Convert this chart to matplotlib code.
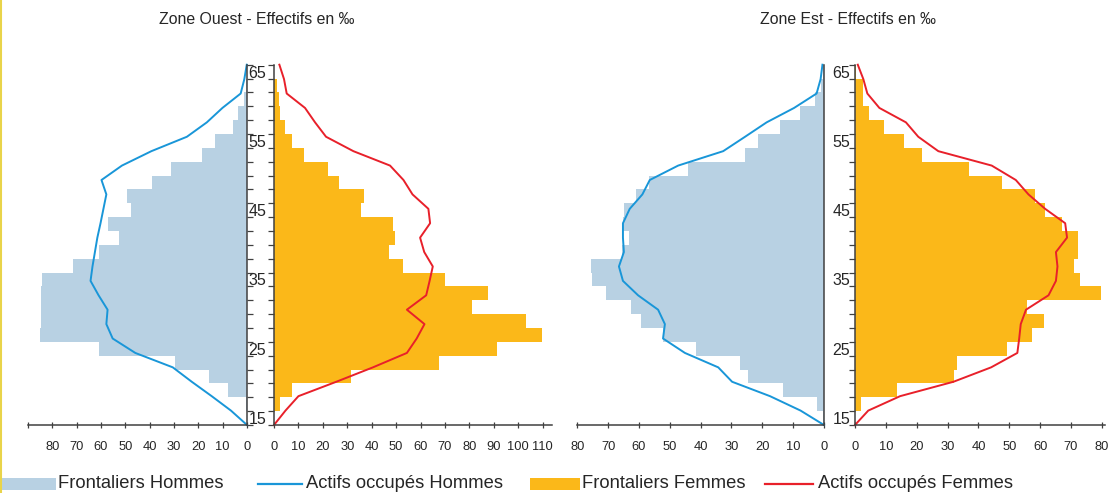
import numpy as np
import matplotlib.pyplot as plt
from matplotlib.lines import Line2D
from matplotlib.patches import Rectangle

plt.rcParams['font.family'] = ['Liberation Sans', 'DejaVu Sans']

# ---- data (per mille), age groups 15, 17, ..., 65 ----
ages = [15, 17, 19, 21, 23, 25, 27, 29, 31, 33, 35, 37, 39,
        41, 43, 45, 47, 49, 51, 53, 55, 57, 59, 61, 63, 65]
age_labels = ["15", "25", "35", "45", "55", "65"]

# Zone Ouest
ouest_front_h = [0, 0.5, 7.8, 15.8, 29.5, 61, 85.2, 84.8, 84.8, 84.5, 84.4, 71.7, 60.7,
                 52.5, 57.0, 47.5, 49.2, 38.9, 31.1, 18.4, 13.1, 5.9, 3.7, 1.2, 0.4, 0.2]
ouest_front_f = [0, 2.5, 7.2, 31.4, 67.6, 91.3, 109.7, 103.1, 81, 87.6, 70, 52.7, 47.1,
                 49.6, 48.6, 35.7, 36.9, 26.6, 22, 12.2, 7.2, 4.5, 2.5, 2.0, 1.4, 0.2]
ouest_actifs_h = [0, 6.6, 14.5, 22.7, 30.5, 45.9, 55.2, 57.8, 57.3, 61, 64.3, 63.5, 62.5,
                  61.5, 60.2, 59, 57.8, 59.8, 51.4, 39.3, 24.7, 16.5, 10.1, 2.6, 1.1, 0.1]
ouest_actifs_f = [0, 4.7, 10, 25.5, 40.5, 54.4, 58.4, 61.6, 54.4, 62.3, 63.7, 65, 61.5,
                  59.8, 63.9, 63.2, 56.7, 53, 47.5, 32.5, 21.3, 16.8, 12.7, 5.2, 4.1, 2.2]

# Zone Est
est_front_h = [0.3, 2.4, 13.2, 24.6, 27.3, 41.6, 52.3, 59.2, 62.7, 70.8, 75.1, 75.4, 65.5,
               63.2, 65.1, 64.8, 61, 56.7, 44, 25.6, 21.3, 14.3, 7.8, 2.9, 1.0, 0.3]
est_front_f = [0, 1.8, 13.5, 32.1, 33, 49.2, 57.3, 61.3, 55.6, 79.7, 72.9, 70.8, 72.3,
               72.3, 67, 61.6, 58.3, 47.6, 37, 21.7, 15.9, 9.4, 4.5, 2.7, 2.7, 0.3]
est_actifs_h = [0, 7.6, 17.5, 29.8, 34.3, 45.1, 52.2, 51.6, 53.8, 60.3, 65.2, 66.5, 64.9,
                65.2, 65.2, 63, 58.9, 56.5, 47.3, 32.7, 25.6, 18.6, 9.7, 2.4, 1.1, 0.5]
est_actifs_f = [0, 4.3, 14.6, 31.9, 44.1, 52.6, 53.2, 53.7, 55.4, 62.7, 65.1, 65.6, 65.1,
                68.7, 68.1, 61.6, 56.2, 52.1, 44.3, 27, 20.5, 16.5, 7.9, 4, 2.7, 0.9]

# ---- style ----
c_h_bar = "#B8D1E3"
c_f_bar = "#FBB819"
c_h_line = "#1996D8"
c_f_line = "#E8202A"
c_axis = "#404040"
c_text = "#262626"

W, H = 1111, 493
fig = plt.figure(figsize=(W / 100, H / 100), dpi=100)

idx = np.arange(len(ages))
# line points span the whole category axis (Excel "on tick marks")
line_pos = np.linspace(-0.5, len(ages) - 0.5, len(ages))
bounds = np.arange(-0.5, len(ages), 1.0)
lab_pos = [ages.index(int(a)) for a in age_labels]

y_bot, y_top = 425, 64.7


def px_axes(x0, x1):
    return fig.add_axes([x0 / W, 1 - y_bot / H, (x1 - x0) / W, (y_bot - y_top) / H])


def style_common(ax):
    ax.set_ylim(-0.5, len(ages) - 0.5)
    ax.spines["top"].set_visible(False)
    ax.spines["bottom"].set_color(c_axis)
    ax.spines["bottom"].set_linewidth(1.1)
    ax.tick_params(axis="x", direction="inout", length=5, width=0.9, color=c_axis,
                   labelsize=9.3, labelcolor=c_text, pad=9)
    ax.patch.set_alpha(0)


def men_axes(x0, x1, xmin, ticks, inner_ticks, front, actifs):
    ax = px_axes(x0, x1)
    ax.barh(idx, [-v for v in front], height=1.0, color=c_h_bar, linewidth=0)
    ax.plot([-v for v in actifs], line_pos, color=c_h_line, lw=1.4, clip_on=False)
    style_common(ax)
    ax.set_xlim(xmin, 0)
    ax.spines["left"].set_visible(False)
    ax.spines["right"].set_color(c_axis)
    ax.spines["right"].set_linewidth(1.1)
    ax.set_xticks([-t for t in ticks])
    ax.set_xticklabels([str(t) for t in ticks])
    ax.yaxis.tick_right()
    ax.set_yticks([])
    if inner_ticks:
        ax.set_yticks(bounds, minor=True)
        ax.tick_params(axis="y", which="minor", direction="out", length=4,
                       width=0.9, color=c_axis)
    return ax


def women_axes(x0, x1, xmax, ticks, pad, front, actifs):
    ax = px_axes(x0, x1)
    ax.barh(idx, front, height=1.0, color=c_f_bar, linewidth=0)
    ax.plot(actifs, line_pos, color=c_f_line, lw=1.4, clip_on=False)
    style_common(ax)
    ax.set_xlim(0, xmax)
    ax.spines["right"].set_visible(False)
    ax.spines["left"].set_color(c_axis)
    ax.spines["left"].set_linewidth(1.1)
    ax.set_xticks(ticks)
    ax.set_xticklabels([str(t) for t in ticks])
    ax.set_yticks(lab_pos)
    ax.set_yticklabels(age_labels)
    ax.tick_params(axis="y", which="major", length=0, labelsize=11.5,
                   labelcolor=c_text, pad=pad)
    ax.set_yticks(bounds, minor=True)
    ax.tick_params(axis="y", which="minor", direction="out", length=4,
                   width=0.9, color=c_axis)
    return ax


# Zone Ouest
men_axes(28, 247, -89.8, [90, 80, 70, 60, 50, 40, 30, 20, 10, 0], True,
         ouest_front_h, ouest_actifs_h)
women_axes(274, 552, 113.8, [0, 10, 20, 30, 40, 50, 60, 70, 80, 90, 100, 110], 5.5,
           ouest_front_f, ouest_actifs_f)

# Zone Est
men_axes(577, 824, -80.1, [80, 70, 60, 50, 40, 30, 20, 10, 0], False,
         est_front_h, est_actifs_h)
women_axes(855, 1105, 81.0, [0, 10, 20, 30, 40, 50, 60, 70, 80], 3.5,
           est_front_f, est_actifs_f)

# hide the unlabeled -90 tick label on the left
fig.axes[0].get_xticklabels()[0].set_visible(False)

# titles
fig.text(257 / W, 1 - 20 / H, "Zone Ouest - Effectifs en \u2030", ha="center", va="center",
         fontsize=11.4, color=c_text)
fig.text(848 / W, 1 - 20 / H, "Zone Est - Effectifs en \u2030", ha="center", va="center",
         fontsize=11.4, color=c_text)

# legend
ly = 1 - 484 / H
fs_leg = 13.2
fig.add_artist(Rectangle((0 / W, 1 - 490 / H), 56 / W, 12 / H, color=c_h_bar, lw=0,
                         transform=fig.transFigure))
fig.text(58 / W, ly, "Frontaliers Hommes", va="center", fontsize=fs_leg, color=c_text)
fig.add_artist(Line2D([258 / W, 302 / W], [ly, ly], color=c_h_line, lw=1.6,
                      transform=fig.transFigure))
fig.text(306 / W, ly, "Actifs occupés Hommes", va="center", fontsize=fs_leg, color=c_text)
fig.add_artist(Rectangle((530 / W, 1 - 490 / H), 50 / W, 12 / H, color=c_f_bar, lw=0,
                         transform=fig.transFigure))
fig.text(582 / W, ly, "Frontaliers Femmes", va="center", fontsize=fs_leg, color=c_text)
fig.add_artist(Line2D([765 / W, 813 / W], [ly, ly], color=c_f_line, lw=1.6,
                      transform=fig.transFigure))
fig.text(818 / W, ly, "Actifs occupés Femmes", va="center", fontsize=fs_leg, color=c_text)

# thin yellow frame edge on the left
fig.add_artist(Line2D([1 / W, 1 / W], [0, 1], color="#E9D44A", lw=1.5,
                      transform=fig.transFigure))

fig.savefig("out.png", dpi=100)
